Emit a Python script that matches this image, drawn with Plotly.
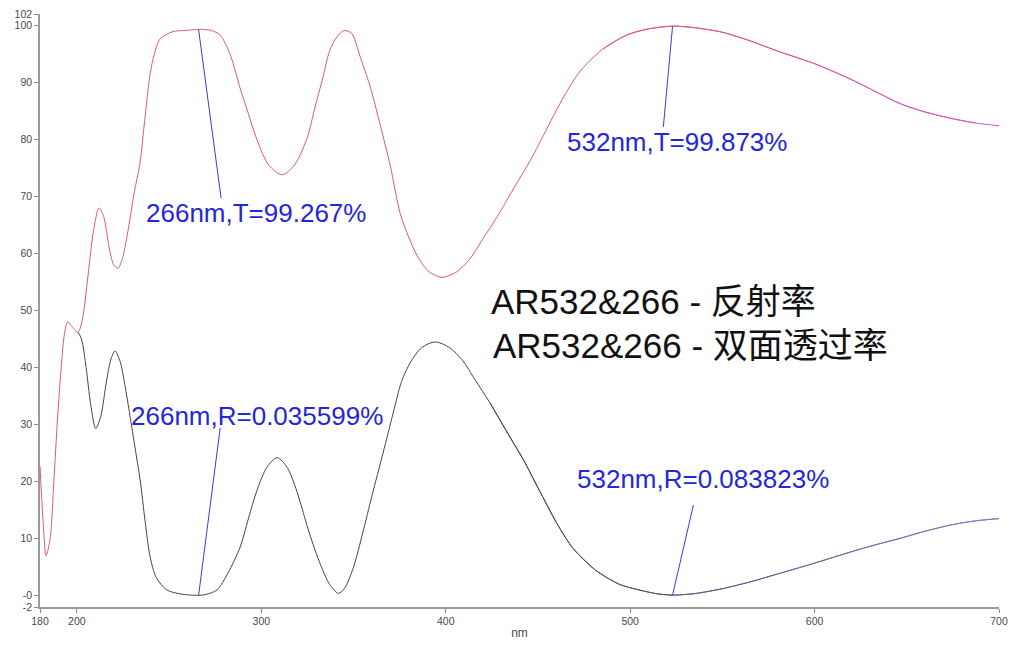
import plotly.graph_objects as go

# ---------------- data ----------------
wl_T = [180, 181.5, 183.3, 185.5, 187.5, 189.5, 191.5, 193.3, 195, 197, 200.6, 203, 206, 209, 212,
        214.5, 217.5, 220, 222.3, 225, 228, 231, 234.3, 236, 238, 239.7, 242, 245, 252, 258, 266.8,
        273, 277.7, 283, 288.5, 293, 297.7, 304, 311.3, 318, 325, 329, 333.5, 337, 341, 345,
        349, 353.6, 359, 364.5, 370, 375.3, 380, 385, 391, 398, 406, 413, 420, 428, 437, 446, 455,
        464, 473, 485, 498, 510, 523, 535, 550, 565, 580, 600, 620, 633, 647, 660, 674, 687, 700]
T = [22.7, 14, 7.0, 10, 20, 31, 40, 46, 48, 47.3, 46.2, 48.5, 56, 64, 68,
     66.5, 61, 58, 57.4, 59.5, 64.5, 70.5, 76, 81, 87, 91.5, 95, 97.6, 98.9, 99.1, 99.3,
     99.1, 98.3, 95, 89, 84.5, 79.9, 75.5, 73.8, 75.5, 80.4, 85.5, 91, 95.5, 98, 99.1,
     98.6, 94.5, 89.3, 82.5, 75.3, 67, 62.8, 59.3, 56.8, 55.8, 56.8, 59, 62.5, 66.5, 71.5, 76.4, 82,
     87.5, 92.0, 95.8, 98.3, 99.4, 99.87, 99.6, 98.8, 97.3, 95.5, 93.3, 90.5, 88.4, 86.2, 84.8, 83.7, 82.9, 82.4]

wl_R = [200.6, 202.5, 205, 207.5, 210.2, 213, 216, 218.5, 220.7, 223.5, 226, 228.8, 231.5, 234.3,
        237, 239.7, 243, 248.7, 256, 266, 270, 276, 282, 288.5, 293, 297.7, 303, 308.6, 314, 318,
        321, 326, 332, 337, 341.7, 345, 350, 355, 360, 366, 371.5, 376, 381, 387, 394.3, 402, 409,
        416, 424, 433, 442, 451, 460, 469, 481, 494, 506, 515, 523, 535, 550, 565, 580, 600, 620,
        633, 647, 660, 674, 687, 700]
R = [46.2, 45, 40, 33.5, 29.3, 31.5, 37.5, 41.5, 42.9, 41, 37, 31.5, 26, 20.3,
     13, 6.8, 3.2, 1.0, 0.3, 0.04, 0.2, 1.0, 4.0, 8.5, 13.5, 18.5, 22.5, 24.2, 22.5, 19.5,
     16.5, 11, 5.5, 2, 0.4, 1.2, 5, 11, 17.5, 25, 32, 37.5, 41, 43.5, 44.5, 43.5, 41.3,
     37.8, 33.8, 28.8, 23.9, 18.3, 12.8, 8.3, 4.5, 2.0, 0.9, 0.3, 0.08, 0.35, 1.2, 2.4, 3.8, 5.7, 7.7,
     8.9, 10.1, 11.3, 12.4, 13.1, 13.5]

x_ticks = [180, 200, 300, 400, 500, 600, 700]
y_ticks = [-2, 0, 10, 20, 30, 40, 50, 60, 70, 80, 90, 100, 102]
y_tick_text = ["-2", "-0", "10", "20", "30", "40", "50", "60", "70", "80", "90", "100", "102"]

mark_nm = [266, 523]
mark_T = [99.267, 99.873]
mark_R = [0.035599, 0.083823]
label_T = ["266nm,T=99.267%", "532nm,T=99.873%"]
label_R = ["266nm,R=0.035599%", "532nm,R=0.083823%"]
titles = ["AR532&266 - 反射率", "AR532&266 - 双面透过率"]

# ---------------- figure ----------------
fig = go.Figure()


def mix(c0, c1, t):
    t = max(0.0, min(1.0, t))
    return "rgb(%d,%d,%d)" % tuple(round(a + (b - a) * t) for a, b in zip(c0, c1))


def add_colored(xs, ys, start, end, c0, c1, step=2):
    n = len(xs)
    k = max(i for i, v in enumerate(xs) if v <= start)
    bounds = list(range(k, n - 1, step)) + [n - 1]
    line_kw = dict(width=1, shape="spline", smoothing=0.8)
    e = min(k + 1, n - 1)
    fig.add_trace(go.Scatter(x=xs[:e + 1], y=ys[:e + 1], mode="lines",
                             line=dict(color=mix(c0, c1, 0), **line_kw),
                             hoverinfo="skip", showlegend=False))
    for s in range(len(bounds) - 1):
        a = max(bounds[s] - 1, 0)
        b = min(bounds[s + 1] + 1, n - 1)
        mid = (xs[bounds[s]] + xs[bounds[s + 1]]) / 2
        fig.add_trace(go.Scatter(x=xs[a:b + 1], y=ys[a:b + 1], mode="lines",
                                 line=dict(color=mix(c0, c1, (mid - start) / (end - start)), **line_kw),
                                 hoverinfo="skip", showlegend=False))


add_colored(wl_T, T, 498, 700, (222, 92, 100), (215, 80, 215))
add_colored(wl_R, R, 433, 700, (70, 70, 70), (125, 125, 200))

blue = "#2626d8"
font_lab = dict(family="Liberation Sans, Arial, sans-serif", size=26, color=blue)

tails_T = [(278.2, 69.7), (518.0, 82.2)]
tails_R = [(277.7, 29.4), (534.3, 15.9)]
for k in range(2):
    fig.add_shape(type="line", x0=mark_nm[k], y0=mark_T[k], x1=tails_T[k][0], y1=tails_T[k][1],
                  xref="x", yref="y", line=dict(color="#3a3ae6", width=1))
    fig.add_shape(type="line", x0=mark_nm[k], y0=mark_R[k], x1=tails_R[k][0], y1=tails_R[k][1],
                  xref="x", yref="y", line=dict(color="#3a3ae6", width=1))

pos_T = [(236.5, 67.1), (464.5, 79.5)]
pos_R = [(228.0, 31.5), (470.0, 20.4)]
for k in range(2):
    fig.add_annotation(x=pos_T[k][0], y=pos_T[k][1], text=label_T[k], showarrow=False,
                       xanchor="left", yanchor="middle", font=font_lab)
    fig.add_annotation(x=pos_R[k][0], y=pos_R[k][1], text=label_R[k], showarrow=False,
                       xanchor="left", yanchor="middle", font=font_lab)

font_title = dict(family="Liberation Sans, Noto Sans CJK SC, sans-serif", size=35, color="#111111")
fig.add_annotation(x=423.5, y=51.5, text=titles[0], showarrow=False, xanchor="left", yanchor="middle",
                   font=font_title)
fig.add_annotation(x=424.5, y=43.9, text=titles[1], showarrow=False, xanchor="left", yanchor="middle",
                   font=font_title)

axis_common = dict(showgrid=False, zeroline=False, showline=True, linecolor="#9a9a9a", linewidth=1.5,
                   ticks="outside", ticklen=4, tickcolor="#8a8a8a", tickwidth=1, automargin=False,
                   tickfont=dict(family="Liberation Sans, Arial, sans-serif", size=10.5, color="#4a4a4a"))

fig.update_xaxes(range=[180, 700], tickvals=x_ticks, ticktext=[str(v) for v in x_ticks],
                 title=dict(text="nm", font=dict(family="Liberation Sans, Arial, sans-serif", size=12,
                                                 color="#4a4a4a"), standoff=2),
                 **axis_common)
fig.update_yaxes(range=[-2, 102], tickvals=y_ticks, ticktext=y_tick_text, **axis_common)

fig.update_layout(width=1022, height=646, margin=dict(l=40, r=23, t=14, b=39),
                  paper_bgcolor="white", plot_bgcolor="white", showlegend=False)

fig.write_html("out.html", config={"displayModeBar": False},
               post_script="document.body.style.margin='0px';document.body.style.overflow='hidden';")
